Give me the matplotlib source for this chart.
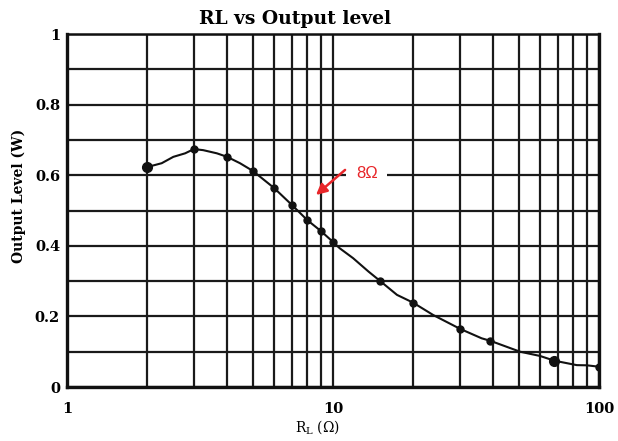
import matplotlib
matplotlib.use('Agg')
import matplotlib.pyplot as plt

# load resistance (ohm) and output level (W)
curve_r = [2, 2.27, 2.51, 2.78, 3, 3.25, 3.66, 4, 4.47, 5, 6, 7, 8, 9, 10,
           10.6, 11.9, 13.6, 15, 17.4, 20, 23.8, 30, 36.2, 39, 50.5, 60, 68,
           82.5, 90, 100]
curve_w = [0.623, 0.634, 0.652, 0.662, 0.674, 0.671, 0.662, 0.652, 0.634,
           0.612, 0.564, 0.516, 0.473, 0.442, 0.411, 0.393, 0.365, 0.327,
           0.301, 0.261, 0.239, 0.204, 0.165, 0.138, 0.131, 0.100, 0.088,
           0.0745, 0.062, 0.0615, 0.0575]

# measured points (dots)
pts_r = [2, 3, 4, 5, 6, 7, 8, 9, 10, 15, 20, 30, 39, 68, 100]
pts_w = [0.623, 0.674, 0.652, 0.612, 0.564, 0.516, 0.473, 0.442, 0.411,
         0.301, 0.239, 0.165, 0.131, 0.0745, 0.0575]

x_ticks = [1, 10, 100]
x_tick_labels = ['1', '10', '100']
y_ticks = [0, 0.2, 0.4, 0.6, 0.8, 1.0]
y_tick_labels = ['0', '0.2', '0.4', '0.6', '0.8', '1']

serif = 'DejaVu Serif'
red = '#e8262a'

fig = plt.figure(figsize=(6.18, 4.41), dpi=100)
ax = fig.add_axes([0.1084, 0.1224, 0.8609, 0.8005])

ax.set_xscale('log')
ax.set_xlim(1, 100)
ax.set_ylim(0, 1)

ax.set_xticks(x_ticks)
ax.set_xticklabels(x_tick_labels, fontfamily=serif, fontweight='bold', fontsize=10.5)
ax.set_xticks([m * d for d in (1, 10) for m in range(2, 10)], minor=True)
ax.set_xticklabels([], minor=True)
ax.set_yticks(y_ticks)
ax.set_yticklabels(y_tick_labels, fontfamily=serif, fontweight='bold', fontsize=10.5)
ax.set_yticks([0.1, 0.3, 0.5, 0.7, 0.9], minor=True)
ax.tick_params(axis='both', which='both', length=0)
ax.tick_params(axis='x', pad=11)
ax.tick_params(axis='y', pad=5)

ax.grid(True, which='both', color='#1a1a1a', lw=1.6)
ax.set_axisbelow(True)
for s in ax.spines.values():
    s.set_linewidth(2.4)
    s.set_color('#111111')
ax.spines['top'].set_linewidth(1.8)

ax.plot(curve_r, curve_w, color='#111111', lw=1.5, zorder=3)
ax.plot(pts_r, pts_w, 'o', color='#111111', ms=5, zorder=4)
ax.plot([pts_r[0], pts_r[-2]], [pts_w[0], pts_w[-2]], 'o', color='#111111', ms=7, zorder=4)

# 8 ohm callout
ax.text(13.4, 0.606, '8Ω', color=red, fontsize=12, fontfamily='Liberation Sans',
        ha='center', va='center', zorder=5,
        bbox=dict(fc='white', ec='none', pad=7))
ax.annotate('', xy=(8.63, 0.544), xytext=(11.1, 0.615),
            arrowprops=dict(arrowstyle='-|>', color=red, lw=1.8,
                            mutation_scale=16, shrinkA=0, shrinkB=0),
            zorder=6)

fig.text(0.478, 0.958, 'RL vs Output level', ha='center', va='center',
         fontfamily=serif, fontweight='bold', fontsize=13.5)
fig.text(0.03, 0.555, 'Output Level (W)', rotation=90, ha='center', va='center',
         fontfamily=serif, fontweight='bold', fontsize=10)
fig.text(0.513, 0.032, r'R$\mathregular{_L}$ (Ω)', ha='center', va='center',
         fontfamily=serif, fontsize=10)

fig.savefig('out.png', dpi=100)
